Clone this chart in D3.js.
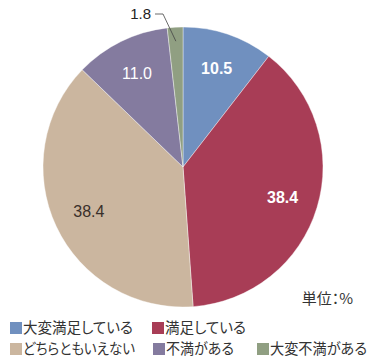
<!DOCTYPE html>
<html>
<head>
<meta charset="utf-8">
<script src="https://cdn.jsdelivr.net/npm/d3@7"></script>
<style>
  body { margin: 0; background: #fff; }
  svg { display: block; }
  text { font-family: "Liberation Sans", Arial, sans-serif; }
  .jp { font-family: "Noto Sans CJK JP", sans-serif; font-feature-settings: "palt"; }
</style>
</head>
<body>
<div id="chart"></div>
<script>
// Satisfaction survey pie, values in %
const categories = ["大変満足している", "満足している", "どちらともいえない", "不満がある", "大変不満がある"];
const values = [10.5, 38.4, 38.4, 11.0, 1.8];
const colors = ["#7090bf", "#a83d56", "#cbb69f", "#847b9f", "#909f82"];
const labelColors = ["#fff", "#fff", "#3a2f2a", "#fff", "#333"];
const labelWeights = ["bold", "bold", "normal", "normal", "normal"];

function createPieChart() {
    const width = 390, height = 363;
    const cx = 183, cy = 167, radius = 140;

    const svg = d3.select("#chart").append("svg")
        .attr("width", width)
        .attr("height", height);

    const g = svg.append("g")
        .attr("transform", `translate(${cx},${cy})`);

    const pie = d3.pie().sort(null).value(d => d);
    const arcs = pie(values);

    const arc = d3.arc().innerRadius(0).outerRadius(radius);
    const labelArc = d3.arc().innerRadius(104).outerRadius(104);

    g.selectAll("path.slice")
        .data(arcs)
        .enter().append("path")
        .attr("class", "slice")
        .attr("d", arc)
        .style("fill", (d, i) => colors[i])
        .style("stroke", "#fff")
        .style("stroke-width", 0.4);

    // inside labels (skip the tiny last slice)
    g.selectAll("text.val")
        .data(arcs.slice(0, 4))
        .enter().append("text")
        .attr("class", "val")
        .attr("transform", d => `translate(${labelArc.centroid(d)})`)
        .attr("text-anchor", "middle")
        .attr("dy", "0.35em")
        .style("font-size", "16px")
        .style("font-weight", (d, i) => labelWeights[i])
        .style("fill", (d, i) => labelColors[i])
        .text((d, i) => values[i].toFixed(1));

    // callout for the small slice
    const small = arcs[4];
    const inner = d3.arc().innerRadius(radius - 14).outerRadius(radius - 14).centroid(small);
    g.append("polyline")
        .attr("points", [[-28, -153], [-20, -153], inner].map(p => p.join(",")).join(" "))
        .style("fill", "none")
        .style("stroke", "#444")
        .style("stroke-width", 0.8);

    g.append("text")
        .attr("x", -32)
        .attr("y", -153)
        .attr("dy", "0.35em")
        .attr("text-anchor", "end")
        .style("font-size", "15px")
        .style("fill", "#222")
        .text(values[4].toFixed(1));

    // unit note
    svg.append("text")
        .attr("class", "jp")
        .attr("x", 353)
        .attr("y", 299)
        .attr("dy", "0.35em")
        .attr("text-anchor", "end")
        .style("font-size", "15px")
        .style("fill", "#333")
        .text("単位：%");

    // legend, two rows; text widths squeezed to the original's proportional kana
    const legendPos = [[10, 328], [152, 328], [10, 349], [153, 349], [257, 349]];
    const legendTextLen = [110, 81, 112, 68, 97];
    const legend = svg.selectAll(".legend")
        .data(categories)
        .enter().append("g")
        .attr("class", "legend")
        .attr("transform", (d, i) => `translate(${legendPos[i][0]},${legendPos[i][1]})`);

    legend.append("rect")
        .attr("x", 0)
        .attr("y", -6)
        .attr("width", 12)
        .attr("height", 12)
        .style("fill", (d, i) => colors[i]);

    legend.append("text")
        .attr("class", "jp")
        .attr("x", 13)
        .attr("dy", "0.36em")
        .attr("textLength", (d, i) => legendTextLen[i])
        .attr("lengthAdjust", "spacingAndGlyphs")
        .style("font-size", "15px")
        .style("fill", "#333")
        .text(d => d);
}

createPieChart();
</script>
</body>
</html>
